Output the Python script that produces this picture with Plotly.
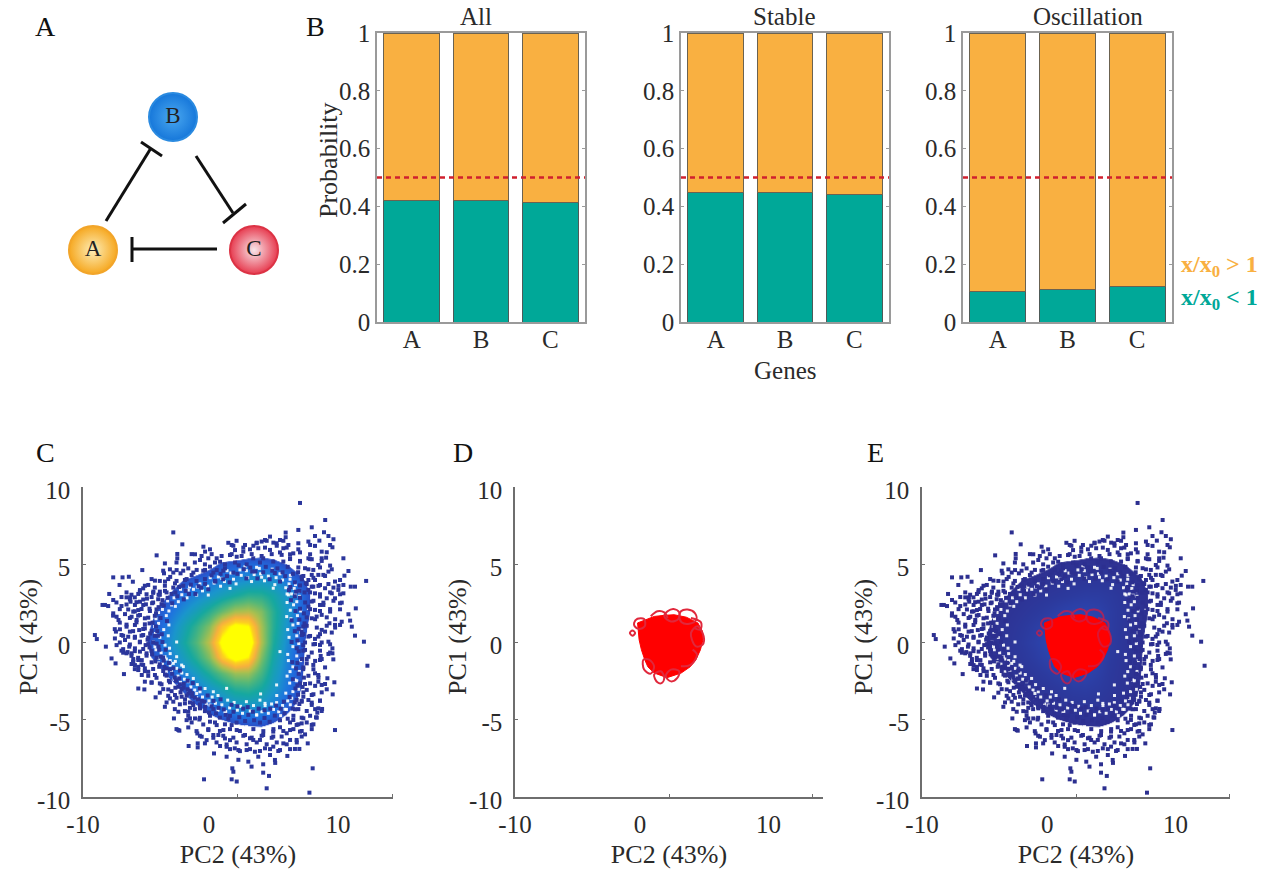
import plotly.graph_objects as go

W, H = 1271, 872
SERIF = "Liberation Serif"
INK = "#2a2a2a"

# ---------- panel B ----------
genes = ["A", "B", "C"]
gene_pos = [0, 1, 2]
panel_titles = ["All", "Stable", "Oscillation"]
low_all = [0.42, 0.422, 0.415]
low_stable = [0.447, 0.447, 0.44]
low_osc = [0.105, 0.113, 0.122]
threshold = 0.5
prob_ticks = [0, 0.2, 0.4, 0.6, 0.8, 1]
prob_labels = ["0", "0.2", "0.4", "0.6", "0.8", "1"]

# ---------- panel A network ----------
node_names = ["B", "A", "C"]
node_x = [173, 93, 254]
node_y = [117, 250, 250]
node_centre = ["#4aa8f0", "#fdeeb8", "#f8e6ea"]
node_edge = ["#1677da", "#f6a821", "#e73c50"]
node_rim = ["#2a8ae0", "#f2a52a", "#dc3345"]
edge_x = [106, 151, None, 141, 162, None, 196, 233, None, 223, 246, None, 217, 132, None, 132, 132]
edge_y = [221, 148, None, 142, 156, None, 156, 213, None, 223, 204, None, 249, 249, None, 237, 262]

# ---------- PCA cloud: density read on a unit grid (x = -7..10, y = 6..-6) ----------
grid_x = [-7, -6, -5, -4, -3, -2, -1, 0, 1, 2, 3, 4, 5, 6, 7, 8, 9, 10]
grid_y = [6, 5, 4, 3, 2, 1, 0, -1, -2, -3, -4, -5, -6]
density = [
    [0, 0, 0, 0, 0, 0, 0, 0, 0, 0, 3, 5, 4, 0, 0, 0, 0, 0],
    [0, 0, 0, 0, 0, 0, 3, 8, 14, 16, 18, 18, 16, 12, 6, 0, 0, 0],
    [0, 0, 0, 0, 6, 12, 16, 20, 23, 26, 29, 30, 28, 22, 15, 7, 0, 0],
    [0, 0, 0, 6, 13, 20, 25, 30, 36, 42, 47, 46, 40, 30, 20, 10, 0, 0],
    [0, 0, 5, 13, 20, 28, 36, 46, 58, 68, 70, 62, 46, 32, 20, 10, 0, 0],
    [0, 0, 8, 16, 25, 36, 48, 62, 86, 100, 96, 68, 46, 30, 18, 8, 0, 0],
    [0, 0, 10, 18, 28, 40, 54, 72, 100, 112, 108, 70, 44, 28, 16, 6, 0, 0],
    [0, 0, 8, 15, 24, 34, 46, 62, 88, 102, 94, 62, 40, 26, 15, 6, 0, 0],
    [0, 0, 0, 7, 15, 24, 33, 44, 56, 66, 66, 52, 36, 24, 14, 6, 0, 0],
    [0, 0, 0, 0, 6, 14, 22, 30, 38, 46, 48, 42, 32, 22, 13, 5, 0, 0],
    [0, 0, 0, 0, 0, 5, 12, 18, 24, 30, 32, 30, 24, 17, 9, 0, 0, 0],
    [0, 0, 0, 0, 0, 0, 0, 8, 12, 16, 18, 18, 14, 9, 4, 0, 0, 0],
    [0, 0, 0, 0, 0, 0, 0, 0, 0, 0, 3, 4, 3, 0, 0, 0, 0, 0],
]

# individual samples in the sparse fringe
fringe = """
7.05 8.97|9 7.87|-2.76 7.07|-2.06 6.3|6.92 7.23|7.96 7.4|8.91 7.08|9.25 6.84|9.64 6.63|8.21 6.84|8.55 6.54|8.21 6.2|7.7 6.48|7.83 6.26
6.92 6.37|6.92 5.98|9.38 6.26|9.56 6.11|8.73 5.83|9.12 5.79|8.73 5.4|9.07 5.44|10.41 5.4|7.7 5.4|7.96 5.34|8.47 4.97|9.38 4.93|10.8 4.58
10.49 4.28|10.15 4|12.17 3.94|10.98 3.57|11.31 3.57|10.41 3.68|9.76 3.9|9.64 3.51|10.02 3.36|10.41 3.14|9.51 3.14|8.99 3.47|8.86 4.33|9.25 4.54
8.47 4.33|7.96 4.33|8.21 4|8.6 3.68|8.08 3.57|9.12 2.82|9.76 2.82|10.15 2.5|8.86 2.39|10.15 2.11|11.37 2.17|9.38 1.96|8.73 1.75|10.8 1.79
10.93 1.38|9.33 1.21|9.76 1.1|10.15 1.1|10.28 1.31|11.06 0.99|11.31 0.41|9.51 0.61|8.73 0.78|8.99 0.67|8.21 0.2|5.94 7.06|5.94 6.76
4.73 6.8|4.34 6.58|4.08 6.48|3.69 6.37|2.79 6.26|5.5 6.58|6.15 6.26|5.76 6.05|5.24 6.37|4.73 5.94|3.82 6.05|3.18 5.98|2.66 5.83|6.53 5.72|5.63 5.62
7.05 5.19|6.28 5.4|3.43 5.4|4.2 5.4|4.98 5.19|5.76 5.19|7.44 4.76|8.08 4.65|7.7 4|7.18 4.22|7.96 3.57|7.7 3.36|8.6 2.93|8.21 3.14|7.96 2.61
8.6 2.39|8.21 2.07|7.7 2.28|8.34 1.64|7.96 1.53|7.31 1|7.18 0.67|7.7 0.35|8.47 0.35|12 0.02|12.27 -1.53|9.76 -5.68|8.03 -8.15|4.47 -9.44|7.78 -9.72
4.2 -8.43|4.65 -8.64|3.3 -8.04|4.2 -7.89|5.11 -7.61|5.13 -7.8|6.07 -7.35|6.66 -6.9|7 -6.9|7.65 -6.54|3.05 -7.72|3.82 -7.4|4.73 -7.29|5.5 -6.97
6.79 -6.32|7.18 -6.1|7.44 -5.96|6.28 -6.32|5.76 -6.54|4.98 -6.75|4.34 -6.86|3.56 -7.08|2.92 -6.97|3.18 -6.21|3.95 -6.32|4.98 -6.1|5.63 -6.1|6.02 -5.89
7.96 -5.35|7.18 -5.25|6.79 -5.35|6.53 -5.03|7.31 -4.92|8.29 -4.86|8.39 -4.56|8.76 -4.32|8.47 -4.28|8.6 -3.78|9.58 -3.38|9.12 -3.05|8.73 -2.77|8.47 -2.56
9.17 -2.34|9.71 -2.6|7.96 -4.06|7.7 -3.74|7.96 -3.42|7.57 -3.09|7.83 -2.67|8.21 -2.02|8.47 -2.13|8.08 -1.48|8.6 -1.16|8.65 -0.9|7.57 -1.38|7.7 -0.95
7.44 -0.51|9.63 -1.12|9.25 -0.77|9.56 -0.73|9.56 -0.41|9.25 0.02|8.6 -0.19|8.21 -0.13|7.05 -2.67|7.31 -3.53|6.66 -4.34|6.28 -5.68|7.05 -5.78|5.5 -5.5
4.98 -5.78|4.2 -6|3.43 -6.32|2.79 -6|7.18 -3.85|6.79 -3.74|-7.23 -1.38|-7.54 -1.06|-6.58 -2.07|-5.47 -3|-5 -3.06|-6.64 -0.69|-6.3 -0.65|-5.86 -1.27
-5.73 -1.49|-5.2 -1.17|-5.47 -1.81|-4.96 -1.7|-5.2 -2.13|-4.7 -1.92|-4.96 -2.56|-4.44 -2.63|-4.18 -2.13|-3.8 -2.67|-3.8 -3.27|-4.13 -3.57|-3.41 -4.18
-3.15 -3.06|-3.02 -3.64|-2.63 -3.42|-2.76 -3.85|-2.37 -2.89|-2.11 -3.53|-1.86 -3.96|-2.37 -4.5|-2.71 -4.93|-2.37 -5.68|-2.29 -5.72|-1.6 -4.5|-1.47 -4.93
-1.73 -5.04|-1.08 -4.93|-1.47 -4.25|-0.74 -5|-1.21 -4.07|-1.6 -3.32|-0.69 -4.28|-0.3 -4.18|-1.6 -5.51|-0.9 -5.9|-0.56 -6.11|-0.18 -6.33|-0.31 -6.54
-0.87 -6.54|-0.87 -6.8|-1.57 -6.71|0.86 -6.71|1.37 -6.76|0.39 -7.19|1.37 -7.4|2 -6.86|1.81 -8.15|1.89 -8.37|1.76 -8.86|2.15 -9|-0.38 -8.86
-0.05 -5.68|0.34 -6|0.73 -6|1.24 -6.22|1.63 -6.33|0.08 -5.14|0.6 -5.36|1.12 -5.68|2.15 -5.68|1.76 -5.36|2.28 -6.97|2.28 -7.6
-4.05 5.59|-2.45 5.68|-2.45 5.4|-3.41 5.07|-5.16 4.64|-7.41 4.17|-6.69 4.17|-6.2 4.21|-5.89 3.89|-6.92 3.68|-7.72 3.1|-7.41 2.71|-8.24 2.39|-8.05 2.39
-7.8 2.32|-8.83 0.45|-8.68 0.19|-7.98 -0.3|-7.15 -0.2|-5.34 3.35|-5.09 3.46|-5.47 3.1|-4.7 3.68|-4.18 3.96|-3.48 4.43|-3.02 4.69|-2.5 4.64|-2.2 4.43
-1.6 4.75|-1.08 5.66|-0.69 5.29|-0.43 6.15|-0.3 5.83|0.08 5.98|-0.05 5.4|0.6 5.4|0.86 5.18|1.5 6.4|1.76 6.26|1.63 5.61|2.02 5.93|2.15 5.5
-0.3 4.65|0.08 4.86|0.6 4.64|1.24 4.75|-0.95 4.65|-1.34 4.32|-1.86 4|-3 4.2|-3.4 3.9|-2.63 3.78|-3.8 3.25|-4.3 3.25|-4.8 2.8|-5.34 2.6|-5.73 2.39
-6.1 2.88|-6.38 2.88|-6.07 2.6|-6.77 2.32|-6.25 2.1|-5.86 1.96|-5.47 2.06|-5.09 2.39|-7.41 1.85|-7.15 1.63|-7 1.42|-6.5 1.8|-5.99 1.63|-5.6 1.42
-5.34 1.74|-4.96 1.53|-5.73 1.1|-6.38 0.99|-6.89 0.82|-7.2 0.67|-6.77 0.45|-6.12 0.67|-5.4 0.77|-4.96 0.88|-5.09 0.45|-5.73 0.34|-6.25 0.34|-7.28 0.23
-6.5 0.13|-5.34 0.02|-4.9 -0.2|-6.17 -0.3|-5.73 -0.41|-6.77 -0.56|-6.38 -0.73|-5.99 -0.73|-5.34 -0.62|-4.83 -0.73|-5.86 -1.1|-5.99 -1.42|-5.47 -1.16
-5.09 -1.48|-5.47 -1.6
-6.38 3.2|-6 3.05|-5.35 3.22|-4.83 3.08|-4.32 3.17|-3.8 3.05|-3.28 3.2|-6.77 2.9|-6.12 2.75|-5.74 2.88|-5.09 2.74|-4.44 2.9|-3.93 2.76
-7.16 2.55|-6.38 2.42|-5.61 2.57|-4.88 2.43|-4.32 2.55|-3.67 2.44|-6.9 2.12|-5.74 1.98|-5.22 2.13|-4.57 2|-4.06 2.1|-7.42 1.7|-6.12 1.55|-5.48 1.7|-4.7 1.57|-4.19 1.69
-6.9 1.25|-6.38 1.12|-5.61 1.27|-4.96 1.14|-4.37 1.25|-7.29 0.83|-5.87 0.7|-5.09 0.84|-4.44 0.72|-6.64 0.4|-5.74 0.27|-5.22 0.41|-4.7 0.29|-4.19 0.4
-6.9 -0.03|-6.12 -0.16|-5.35 -0.02|-4.7 -0.14|-4.32 -0.03|-6.64 -0.46|-5.74 -0.59|-5.09 -0.45|-4.44 -0.58|-6 -0.89|-5.48 -1.02|-4.83 -0.88|-4.06 -1.01
-5.87 -1.32|-5.22 -1.45|-4.44 -1.31|-3.8 -1.44|-5.74 -1.75|-4.96 -1.88|-4.32 -1.74|-3.54 -1.87|-3.02 -1.76|-4.7 -2.18|-4.06 -2.31|-3.28 -2.17|-2.64 -2.3
-4.44 -2.6|-3.67 -2.73|-3.02 -2.6|-2.25 -2.73|-3.54 -3.04|-2.89 -3.17|-2.12 -3.03|-1.47 -3.16|-3.15 -3.47|-2.51 -3.6|-1.73 -3.46|-1.09 -3.59
-3.28 -3.9|-2.25 -4.02|-1.47 -3.9|-0.7 -4.03|-2.64 -4.33|-1.86 -4.46|-1.09 -4.33|-0.31 -4.46|0.34 -4.33|-1.6 -4.76|-0.7 -4.89|0.08 -4.76|0.85 -4.88|1.63 -4.76
-1.34 -5.19|-0.44 -5.32|0.47 -5.19|1.24 -5.31|2.14 -5.2|-2.51 -5.62|-0.96 -5.75|-0.05 -5.62|0.85 -5.74|1.63 -5.62|2.4 -5.74
-0.7 -6.05|0.34 -6.18|1.11 -6.05|1.89 -6.17|2.66 -6.05|3.31 -6.17|4.08 -6.05|4.86 -6.18|0.59 -6.48|1.37 -6.61|2.14 -6.48|2.92 -6.6|3.7 -6.48|4.47 -6.6|5.25 -6.48|6.02 -6.6|6.8 -6.48
1.63 -6.91|2.4 -7.04|3.18 -6.91|3.95 -7.03|4.73 -6.91|5.37 -7.03|6.28 -6.91|3.44 -5.62|4.21 -5.75|4.99 -5.62|5.76 -5.74|6.54 -5.62|7.18 -5.74|7.96 -5.62
6.28 -5.19|6.92 -5.31|7.57 -5.19|8.09 -5.31|6.54 -4.76|7.18 -4.88|7.83 -4.76|8.35 -4.88|6.92 -4.33|7.57 -4.45|8.22 -4.33|8.73 -4.45
7.18 -3.79|7.96 -3.91|8.6 -3.79|7.31 -3.25|8.09 -3.37|8.73 -3.25|7.44 -2.71|8.22 -2.83|8.99 -2.71|7.7 -2.18|8.48 -2.3|7.31 -1.64|8.09 -1.76|8.99 -1.64
7.57 -1.1|8.22 -1.22|8.73 -1.1|7.31 -0.56|7.96 -0.68|8.6 -0.56|9.38 -0.68|7.44 -0.03|8.09 -0.15|8.73 -0.03|9.38 -0.15|7.31 0.51|7.83 0.39|8.6 0.51
7.57 1.05|8.35 0.93|9.12 1.05|9.77 0.93|7.57 1.59|8.22 1.47|9.12 1.59|9.77 1.47|7.83 2.12|8.6 2|9.38 2.12|8.09 2.66|8.86 2.54|9.64 2.66|10.28 2.54
7.83 3.2|8.6 3.08|9.38 3.2|10.15 3.08|7.57 3.74|8.48 3.62|9.25 3.74|10.03 3.62|7.31 4.26|8.09 4.14|8.99 4.26|6.92 4.81|7.7 4.69|8.6 4.81|9.51 4.69
6.28 5.35|7.05 5.23|7.83 5.35|8.73 5.23|5.5 5.78|6.28 5.66|7.05 5.78|7.83 5.66|1.89 6.21|2.66 6.09|3.44 6.21|4.34 6.09|5.25 6.21|6.02 6.09
2.14 6.53|3.7 6.41|4.47 6.53|4.99 6.41|5.76 6.53|-1.34 5.67|-0.57 5.55|0.21 5.67|0.98 5.55|1.76 5.67|2.53 5.55|3.31 5.67|4.08 5.55|4.86 5.67
-2.51 5.13|-1.86 5.01|-1.09 5.13|-0.31 5.01|0.47 5.13|1.24 5.01|2.02 5.13|2.92 5.01|3.95 5.13|-3.54 4.6|-2.76 4.48|-1.99 4.6|-1.21 4.48|-0.44 4.6|0.34 4.48|1.11 4.6|1.89 4.48
-4.44 4.06|-3.8 3.94|-3.15 4.06|-2.51 3.94|-1.73 4.06|-0.96 3.94|-0.31 4.06|0.47 3.94|-4.96 3.63|-4.19 3.51|-3.41 3.63|-2.76 3.51|-1.99 3.63
0.2 4.3|0.9 4.4|1.4 4.25|2.3 4.95|2.7 4.7|3.2 4.8|3.6 4.55|4.4 4.85|4.9 4.6|5.3 4.75|5.7 4.5|6.1 4.85|6.5 4.4|6.9 4.5|7.2 4.05|7.5 3.8|7.05 3.65
-3.9 3.05|-3.4 3.3|-2.9 3.1|-2.3 3.55|-1.8 3.3|-1.4 3.7|-0.8 3.6|-0.3 3.75|-4.4 2.5|-3.9 2.25|-4.6 2.15|-4.1 1.85|-3.6 2.7|-3.2 2.85|-2.6 3.2
-4.6 1.2|-4.1 1|-4.55 0.55|-3.95 0.4|-4.75 0.15|-4.05 -0.1|-4.6 -0.35|-3.85 -0.5|-4.4 -0.8|-3.75 -0.95|-4.15 -1.25|-3.5 -1.2|-3.85 -1.6|-3.3 -1.7
-3.4 -2.1|-2.85 -2.05|-3.1 -2.5|-2.55 -2.5|-2.6 -2.95|-1.95 -2.7|-2.2 -3.25|-1.65 -3.05|-1.85 -3.7|-1.3 -3.3|-1.25 -3.95|-0.85 -3.7|-0.7 -4.2|-0.35 -3.85|0 -4.55|0.2 -4.15|0.55 -4.6|0.75 -4.25
1.3 -4.7|1.5 -4.95|1.9 -4.5|2.35 -4.85|2.8 -5.1|3.05 -4.7|3.5 -5.05|3.95 -5.2|4.3 -4.9|4.7 -5.15|5.1 -4.75|5.5 -5.05|5.85 -4.6|6.1 -4.95|6.5 -4.3
6.65 -3.9|7 -4|6.9 -3.4|7.25 -2.9|6.85 -2.8|7.35 -2.3|6.95 -2.05|7.3 -1.75|6.85 -1.35|7.2 -1.1|6.95 -0.6|7.3 -0.2|6.85 0.1|7.2 0.45|6.95 0.85|7.4 1.2|7 1.45|7.35 1.85|7.05 2.15|7.45 2.55|7.05 2.85|7.4 3.2|7 3.3
0.5 3.9|1.1 4.05|1.6 3.85|2.2 4.4|2.9 4.1|3.35 4.55|3.75 4.1|4.2 4.5|4.7 4.05|5.1 4.45|5.5 3.9|5.9 4.25|6.3 3.55|6.65 3.85|6.75 3.25
-3.5 2.35|-2.85 2.5|-2.45 2.95|-1.95 2.75|-1.55 3.1|-1.05 3.1|-0.6 3.5|-0.05 3.4|-3.75 1.55|-3.25 1.35
-4 0.7|-3.65 0.5|-3.6 0|-3.9 -0.3|-3.35 -0.5|-3.55 -1|-3.1 -1.35|-3.45 -1.6
-2.75 -1.7|-2.25 -1.85|-2.3 -2.35|-1.65 -2.5|-1.95 -2.95|-1.25 -2.65|-1.3 -3.5|-0.7 -3|-0.55 -3.8|-0.1 -3.45|0.35 -3.8|0.9 -3.7|1.15 -4.35
1.75 -4.05|2.2 -4.15|2.65 -4.3|3 -4.2|3.4 -4.5|3.85 -4.3|4.3 -4.4|4.75 -4.3|5.2 -4.1|5.55 -4.3|5.8 -3.85|6.25 -3.55
6.7 -3|6.5 -2.4|6.75 -1.7|6.45 -1.3|6.8 -0.4|6.4 0|6.65 0.7|6.4 1.4|6.7 2|6.35 2.7|6.65 2.95|6.2 3.35
"""
fringe_pairs = [p.split() for p in fringe.replace("\n", "|").split("|") if p.strip()]
sample_x = [float(p[0]) for p in fringe_pairs]
sample_y = [float(p[1]) for p in fringe_pairs]

# pale gaps between samples inside the cloud
gaps = """
1 4.1|-2.37 2.6|-0.95 3.03|-1.6 3.35|-4.18 1.74|-2.5 0|-2.5 -0.95|-4.18 -0.3|-4.7 0.88|-0.05 3.03|0.73 4.2|1.63 3.46|-2.89 2.39|-1.98 -1.59
-3.41 -0.95|-4.3 1.63|4.98 3.47|4.08 4.18|3.69 4.82|2.79 4.86|6.92 3.25|6.15 3.04|6.28 4.05|7.18 0.78|7.7 2.17|6.02 1.64|5.5 -0.62|6.15 -1.2
6.66 -2.45|6.28 -1.91|5.24 -2.77|6.41 -3.63|4.34 -3.96|5.89 -4.34|3.69 -4.71|2.92 -5.46|5.24 -3.91|4 -3.35|-2.76 -1.38|-2.11 -1.49|-1.6 -2.56
-0.69 -3.21|0.34 -3.21|-3.41 -2.03|-0.95 -3.32|1.37 -2.99|0.08 -4.07|1.24 -4.5|-1.21 -2.35
1.2 3.9|1.9 4.05|2.5 4.3|3 4.15|3.5 4.35|4 4.4|4.6 4.25|5.2 4.15|5.7 4|6.2 3.75|6.6 3.45|-0.1 3.6|0.4 3.8
-3.2 2.65|-2.7 2.85|-2.1 3.05|-3.6 2.1|-3.3 1.7|-1.2 3.4|-0.5 3.3|-3.9 1.2|-3.5 0.8|-3.8 0.3|-3.4 -0.2|-3.7 -0.7|-3.3 -1.1|-3.6 -1.4|-3 -1.5
-2.9 -1.85|-2.4 -2.2|-2.2 -2.6|-1.9 -2.4|-1.4 -2.9|-1.1 -3.1|-0.5 -3.55|0 -3.8|0.5 -3.95|-2.5 -1.7
1 -4.05|1.6 -4.25|2.2 -4.4|2.6 -4.6|3.2 -4.45|3.7 -4.7|4.1 -4.5|4.6 -4.6|5 -4.35|5.4 -4.5|5.7 -4.1|6.1 -3.8
6.5 -3.2|6.8 -2.5|6.5 -1.6|6.8 -0.9|6.5 -0.3|6.8 0.4|6.5 1.1|6.85 1.7|6.55 2.4|6.8 2.6|6.4 3.1
0.9 3.6|1.7 4.45|2.1 3.75|2.9 4.6|3.3 3.9|3.9 4.75|4.3 3.95|4.9 4.7|5.1 3.7|5.5 4.4|5.95 3.5|6.3 4.3|6.7 3.05|6.05 3.1|2.4 4.65|1.4 4.6|0.1 4.15|-0.7 3.75
-3.7 2.6|-3 3.1|-2.6 2.3|-2.2 3.4|-1.7 2.85|-1.5 3.55|-0.9 3.55|-3.9 1.9|-3.1 2|-4.1 1.5
-4.2 1|-3.1 1.1|-4.15 0.55|-3.15 0.4|-4.3 0|-3.05 -0.4|-4.1 -0.5|-3 -0.75|-3.9 -1.05|-3 -1.2|-3.9 -1.35
-3.3 -1.9|-2.6 -1.25|-2.7 -2.4|-2.1 -2|-2.4 -2.85|-1.7 -2.1|-1.6 -3.3|-0.9 -2.75|-0.95 -3.6|-0.3 -3|-0.2 -4|0.25 -3.55|0.7 -3.45|0.7 -4.4|1.45 -3.75
1.3 -4.5|1.95 -3.9|2.45 -4.15|2.9 -3.85|3.45 -4.1|3.95 -3.75|4.35 -4.1|4.85 -4|5.25 -3.45|5.55 -4.75|6 -4.35|5.95 -3.3|6.3 -4.05
6.95 -3.05|6.25 -2.65|7 -1.9|6.05 -2.2|7.1 -1.2|6.1 -0.8|6.95 -0.1|6.2 0.3|7.1 0.6|6.1 0.8|6.9 1.2|6.35 1.5|7.1 2|6.3 2.05|7 2.95|6.05 2.55|6.7 3.7
"""
gap_pairs = [p.split() for p in gaps.replace("\n", "|").split("|") if p.strip()]
gap_x = [float(p[0]) for p in gap_pairs]
gap_y = [float(p[1]) for p in gap_pairs]

# oscillating trajectories: solid body and the loops that stick out of it
body_x = [-0.2, 0.4, 1.1, 1.9, 2.65, 3.6, 4.5, 4.85, 4.9, 4.7, 4.35, 3.9, 3.2, 2.1, 1.1, 0.6, 0.36, 0.1, -0.08, -0.2]
body_y = [1.23, 1.4, 1.65, 1.72, 1.76, 1.6, 1.23, 0.7, 0.15, -0.5, -1.14, -1.6, -2, -2.3, -2, -1.6, -1.14, -0.5, 0.15, 1.23]
loop_x = [3.05, 3.18, 3.7, 4.27, 4.38, 3.83, 3.23, 3.05, None, 1.88, 2.14, 2.6, 3.05, 2.97, 2.4, 1.88, None,
          -0.47, -0.21, 0.31, 0.36, -0.08, -0.42, -0.47, None, -0.8, -0.6, -0.39, -0.6, -0.8, None,
          1.09, 1.35, 1.67, 1.88, 1.61, 1.09, None, 2, 2.4, 2.9, 3.05, 2.4, 2, None,
          3.96, 4.48, 4.95, 4.87, 4.35, 3.96, None, 0.26, 0.31, 0.83, 1.09, 0.7, 0.26, None,
          0.83, 1.35, 1.88, 2.14, None, 3.18, 3.96, 4.43, 4.09, None, 3.96, 4.74, 4.69, 4.22]
loop_y = [1.66, 1.98, 2.09, 1.87, 1.44, 1.18, 1.27, 1.66, None, 1.66, 1.98, 2.13, 1.91, 1.48, 1.33, 1.66, None,
          1.23, 1.5, 1.48, 1.01, 0.84, 1.01, 1.23, None, 0.58, 0.75, 0.58, 0.41, 0.58, None,
          -2.11, -2.6, -2.65, -2.32, -1.89, -2.11, None, -2.2, -2.54, -2.32, -1.89, -1.78, -2.2, None,
          0.58, 1.01, 0.37, -0.17, -0.28, 0.58, None, -1.14, -1.78, -2.04, -1.57, -1.14, -1.14, None,
          1.66, 1.98, 1.91, 1.55, None, -1.57, -1.46, -0.82, -0.49, None, 1.55, 1.27, 0.8, 0.9]

pc_tick_vals = [-10, -5, 0, 5, 10]
pc_tick_text = ["-10", "-5", "0", "5", "10"]
pc_x_vals = [-9.75, 0, 10]
pc_x_text = ["-10", "0", "10"]
pc_range = [-9.75, 14.25]
pc_tick_marks = [[2.2, 14.2], [2.3, 13.4], [2.25, 14.2]]

ORANGE, TEAL = "#f9b041", "#00a898"
NAVY = "#2c2f90"
CLOUD_SCALE = [[0, "rgba(42,68,184,0)"], [0.115, "rgba(42,68,184,0)"], [0.12, "#2a50c8"], [0.2, "#1f70e0"],
               [0.3, "#1a96cc"], [0.42, "#16a8a0"], [0.55, "#55b878"], [0.68, "#a8c050"],
               [0.8, "#f6b03e"], [0.9, "#fdd020"], [0.96, "#ffff00"], [1, "#ffff00"]]
NAVY_SCALE = [[0, "rgba(46,49,146,0)"], [0.115, "rgba(46,49,146,0)"], [0.12, "#2e3192"], [0.4, "#2c3a9e"],
              [0.8, "#2b48b4"], [1, "#2a55d0"]]

fig = go.Figure()


def fx(px):
    return px / W


def fy(py):
    return 1 - py / H


# ----- bars -----
bar_boxes = [(377, 585), (681, 889), (963, 1172)]
for i, (title, low) in enumerate(zip(panel_titles, [low_all, low_stable, low_osc])):
    ax = "" if i == 0 else str(i + 1)
    high = [1 - v for v in low]
    fig.add_bar(x=gene_pos, y=low, marker=dict(color=TEAL, line=dict(color="#4d5a58", width=1)), width=0.8,
                xaxis="x" + ax, yaxis="y" + ax, showlegend=False)
    fig.add_bar(x=gene_pos, y=high, marker=dict(color=ORANGE, line=dict(color="#6b6250", width=1)), width=0.8,
                xaxis="x" + ax, yaxis="y" + ax, showlegend=False)
    fig.add_scatter(x=[-0.5, 2.5], y=[threshold, threshold], mode="lines",
                    line=dict(color="#d0202e", width=2.5, dash="5px,4px"),
                    xaxis="x" + ax, yaxis="y" + ax, showlegend=False)
    fig.update_layout(**{
        "xaxis" + ax: dict(domain=[fx(bar_boxes[i][0]), fx(bar_boxes[i][1])], range=[-0.5, 2.5],
                           tickvals=gene_pos, ticktext=genes,
                           showgrid=False, showline=True, linecolor="#9a9a9a", linewidth=1.5, mirror=True,
                           ticks="", tickfont=dict(family=SERIF, size=25, color=INK), anchor="y" + ax,
                           automargin=False, zeroline=False, ticklabelstandoff=-6),
        "yaxis" + ax: dict(domain=[fy(322), fy(33)], range=[0, 1], showgrid=False, showline=True,
                           linecolor="#9a9a9a", linewidth=1.5, mirror="ticks", ticks="inside", ticklen=3,
                           tickcolor="#9a9a9a", tickvals=prob_ticks, ticktext=prob_labels, automargin=False,
                           tickfont=dict(family=SERIF, size=25, color=INK), anchor="x" + ax, zeroline=False),
    })

# ----- PCA panels -----
pc_boxes = [(83, 393), (515, 823), (922, 1230)]
for i, box in enumerate(pc_boxes):
    n = i + 4
    ax = str(n)
    if i != 1:
        fig.add_heatmap(x=grid_x, y=grid_y, z=density, zmin=0, zmax=100, zsmooth="best",
                        colorscale=CLOUD_SCALE if i == 0 else NAVY_SCALE, showscale=False,
                        xaxis="x" + ax, yaxis="y" + ax)
        fig.add_scatter(x=gap_x, y=gap_y, mode="markers",
                        marker=dict(symbol="square", size=3, color="rgba(255,255,255,0.9)", line=dict(width=0)),
                        xaxis="x" + ax, yaxis="y" + ax, showlegend=False)
        fig.add_scatter(x=sample_x, y=sample_y, mode="markers",
                        marker=dict(symbol="square", size=4, color=NAVY if i == 2 else "#2b369c", line=dict(width=0)),
                        xaxis="x" + ax, yaxis="y" + ax, showlegend=False)
    if i != 0:
        fig.add_scatter(x=body_x, y=body_y, mode="lines", fill="toself", fillcolor="#ff0000",
                        line=dict(color="#ff0000", width=1), xaxis="x" + ax, yaxis="y" + ax, showlegend=False)
        fig.add_scatter(x=loop_x, y=loop_y, mode="lines",
                        line=dict(color="#e0283c" if i == 1 else "rgba(205,30,70,0.75)", width=2, shape="spline", smoothing=1),
                        connectgaps=False, xaxis="x" + ax, yaxis="y" + ax, showlegend=False)
    fig.update_layout(**{
        "xaxis" + ax: dict(domain=[fx(box[0]), fx(box[1])], range=pc_range, tickvals=pc_x_vals, ticktext=pc_x_text,
                           ticks="", showgrid=False, showline=True, linecolor="#6e6e6e", linewidth=1.5, zeroline=False,
                           minor=dict(tickvals=pc_tick_marks[i], ticks="inside", ticklen=3, tickcolor="#6e6e6e", tickwidth=1),
                           tickfont=dict(family=SERIF, size=25, color=INK), anchor="y" + ax, ticklabelstandoff=4,
                           automargin=False,
                           title=dict(text="PC2 (43%)", font=dict(family=SERIF, size=26, color=INK), standoff=8)),
        "yaxis" + ax: dict(domain=[fy(797), fy(487)], range=[-10, 10], tickvals=pc_tick_vals, ticktext=pc_tick_text,
                           ticks="inside", ticklen=3, tickcolor="#6e6e6e", showgrid=False, showline=True,
                           linecolor="#6e6e6e", linewidth=1.5, zeroline=False, ticklabelstandoff=6,
                           tickfont=dict(family=SERIF, size=25, color=INK), anchor="x" + ax, ticklabelshift=3,
                           automargin=False),
    })

# ----- network diagram, drawn on an axis pair spanning the page -----
fig.add_scatter(x=edge_x, y=edge_y, mode="lines", line=dict(color="#111111", width=3), xaxis="x7", yaxis="y7",
                showlegend=False, connectgaps=False)
fig.add_scatter(x=node_x, y=node_y, mode="markers+text", text=node_names, textposition="middle center",
                textfont=dict(family=SERIF, size=23, color="#222222"),
                marker=dict(size=48, color=node_edge, gradient=dict(type="radial", color=node_centre),
                            line=dict(color=node_rim, width=2)),
                xaxis="x7", yaxis="y7", showlegend=False)
fig.update_layout(
    xaxis7=dict(domain=[0, 1], range=[0, W], visible=False, fixedrange=True, anchor="y7", automargin=False),
    yaxis7=dict(domain=[0, 1], range=[H, 0], visible=False, fixedrange=True, anchor="x7", automargin=False),
)


def note(text, px, py, size=24, color=INK, anchor="center", angle=0, bold=False):
    fig.add_annotation(x=fx(px), y=fy(py), xref="paper", yref="paper", text=f"<b>{text}</b>" if bold else text,
                       showarrow=False, xanchor=anchor, yanchor="middle", textangle=angle,
                       font=dict(family=SERIF, size=size, color=color))


panel_letters = [("A", 45, 27), ("B", 315, 27), ("C", 45, 452), ("D", 463, 452), ("E", 875, 452)]
for letter, px, py in panel_letters:
    note(letter, px, py, size=28, color="#111111")
for title, px in zip(panel_titles, [476, 784, 1088]):
    note(title, px, 17, size=25)
note("Probability", 328, 160, size=26, angle=-90)
note("Genes", 785, 370, size=25)
for px in [28, 457, 863]:
    note("PC1 (43%)", px, 637, size=26, angle=-90)
note("x/x<sub>0</sub> > 1", 1179, 266, size=24, color=ORANGE, anchor="left", bold=True)
note("x/x<sub>0</sub> < 1", 1179, 299, size=24, color=TEAL, anchor="left", bold=True)

fig.update_layout(width=W, height=H, margin=dict(l=0, r=0, t=0, b=0, autoexpand=False), paper_bgcolor="white",
                  plot_bgcolor="rgba(0,0,0,0)", barmode="stack", showlegend=False)

fig.write_html("out.html", config={"displayModeBar": False},
               post_script="document.body.style.margin='0';document.body.style.overflow='hidden';")
